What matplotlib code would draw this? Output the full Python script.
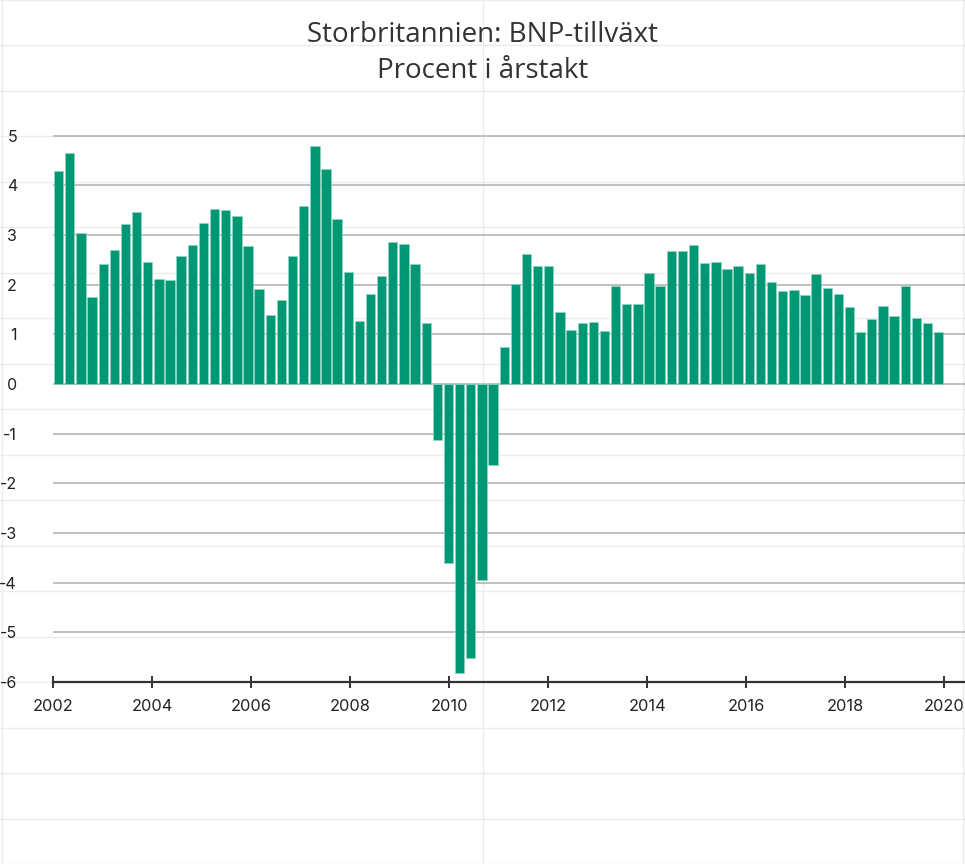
import numpy as np
import matplotlib
matplotlib.use("Agg")
import matplotlib.pyplot as plt
from matplotlib.lines import Line2D

# BNP-tillväxt, procent i årstakt (80 kvartal)
tillvaxt = [4.29, 4.66, 3.05, 1.75, 2.42, 2.70, 3.23, 3.46, 2.46, 2.12,
            2.09, 2.58, 2.81, 3.24, 3.52, 3.50, 3.38, 2.79, 1.91, 1.40,
            1.69, 2.58, 3.58, 4.79, 4.33, 3.32, 2.26, 1.26, 1.81, 2.18,
            2.86, 2.82, 2.42, 1.23, -1.12, -3.61, -5.81, -5.51, -3.94, -1.62,
            0.75, 2.01, 2.61, 2.38, 2.37, 1.46, 1.09, 1.23, 1.24, 1.06,
            1.97, 1.62, 1.62, 2.24, 1.97, 2.67, 2.68, 2.81, 2.43, 2.46,
            2.32, 2.38, 2.23, 2.42, 2.05, 1.87, 1.90, 1.80, 2.21, 1.93,
            1.82, 1.56, 1.05, 1.32, 1.57, 1.38, 1.97, 1.33, 1.23, 1.04]
ar = [2002, 2004, 2006, 2008, 2010, 2012, 2014, 2016, 2018, 2020]
y_ticks = [-6, -5, -4, -3, -2, -1, 0, 1, 2, 3, 4, 5]

titel = "Storbritannien: BNP-tillväxt\nProcent i årstakt"

fig = plt.figure(figsize=(9.65, 8.64), dpi=100)

# bakgrundsrutnät för sidan
for k in range(20):
    fig.add_artist(Line2D([0, 1], [k / 19, k / 19], transform=fig.transFigure,
                          color="#ebebeb", lw=1, zorder=-1))
for xv in [0.002, 0.5, 0.998]:
    fig.add_artist(Line2D([xv, xv], [0, 1], transform=fig.transFigure,
                          color="#ebebeb", lw=1, zorder=-1))

ax = fig.add_axes([0.055, 0.2106, 0.945, 0.684])
ax.patch.set_alpha(0)

slot = (ar[-1] - ar[0]) / len(tillvaxt)
x = ar[0] + (np.arange(len(tillvaxt)) + 0.5) * slot
ax.bar(x, tillvaxt, width=slot * 0.84, color="#009874",
       edgecolor="#8fd6c0", linewidth=0.5, zorder=3)

ax.set_xlim(2002, 2020.42)
ax.set_ylim(-6, 5.9)
ax.set_yticks(y_ticks)
ax.set_yticklabels([str(v) for v in y_ticks])
ax.set_xticks(ar)
ax.set_xticklabels([str(a) for a in ar])

ax.yaxis.grid(True, color="#bbbbbb", lw=1.3, zorder=1)
ax.set_axisbelow(True)
for s in ["top", "right", "left"]:
    ax.spines[s].set_visible(False)
ax.spines["bottom"].set_color("#333333")
ax.spines["bottom"].set_linewidth(1.6)
ax.spines["bottom"].set_zorder(4)

ax.tick_params(axis="y", length=0, pad=26, labelsize=11.5, labelcolor="#222222")
ax.tick_params(axis="x", direction="inout", length=9, width=1.4, color="#333333",
               pad=8, labelsize=11.8, labelcolor="#222222")
for lab in ax.get_xticklabels() + ax.get_yticklabels():
    lab.set_fontfamily(["Inter", "DejaVu Sans"])
for lab in ax.get_yticklabels():
    lab.set_horizontalalignment("right")

fig.text(0.5, 0.9385, titel, ha="center", va="center", fontsize=20,
         color="#333333", linespacing=1.38, family=["Open Sans", "DejaVu Sans"])

fig.savefig("out.png", dpi=100)
